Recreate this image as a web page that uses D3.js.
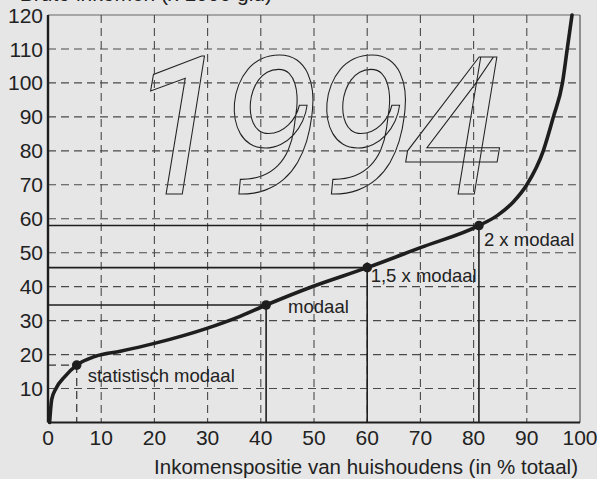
<!DOCTYPE html>
<html><head><meta charset="utf-8">
<script src="https://cdn.jsdelivr.net/npm/d3@7"></script>
<style>
html,body{margin:0;padding:0;background:#e6e6e6;}
svg{display:block;font-family:"Liberation Sans",Arial,Helvetica,sans-serif;}
</style></head>
<body>
<svg id="c" width="597" height="479"></svg>
<script>
const xTicks = [0,10,20,30,40,50,60,70,80,90,100];
const yTicks = [10,20,30,40,50,60,70,80,90,100,110,120];
const curveX = [0.3,0.7,1.5,3.2,5.4,8.9,13.6,20,30,35.5,41,50,60,70,81,84.5,87.5,90,93.1,95,96.7,97.6,98.5];
const curveY = [0,6.8,10,13.6,16.9,19.5,21,23.3,27.8,30.9,34.6,40.2,45.6,51.5,58,61,65,70,80,90,100,110,120];
const markerNames = ["statistisch modaal","modaal","1,5 x modaal","2 x modaal"];
const markerX = [5.4,41,60,81];
const markerY = [16.9,34.6,45.6,58];
const xTitle = "Inkomenspositie van huishoudens (in % totaal)";
const yTitle = "Bruto inkomen (x 1000 gld)";
const yearText = "1994";

const svg = d3.select("#c");
const x = d3.scaleLinear().domain([0,100]).range([48,580]);
const y = d3.scaleLinear().domain([0,120]).range([422.5,15]);
const ink = "#1e1e1e";

// big outlined year
svg.append("text")
  .attr("transform", `translate(${x(49.8)},194) scale(0.93,0.98)`)
  .attr("text-anchor","middle")
  .attr("font-family","Roboto,'Liberation Sans',sans-serif")
  .attr("font-size",197).attr("font-style","italic")
  .attr("letter-spacing",-8)
  .attr("fill","none").attr("stroke",ink).attr("stroke-width",1.1)
  .attr("vector-effect","non-scaling-stroke")
  .text(yearText);

// frame top/right
svg.append("line").attr("x1",x(0)).attr("x2",x(100)).attr("y1",y(120)).attr("y2",y(120))
  .attr("stroke","#666").attr("stroke-width",1.2);
svg.append("line").attr("x1",x(100)).attr("x2",x(100)).attr("y1",y(120)).attr("y2",y(0))
  .attr("stroke","#555").attr("stroke-width",1.2);

// dashed grid
const dash = "8,5";
svg.append("g").selectAll("line").data(yTicks.filter(d=>d<120)).join("line")
  .attr("x1",x(0)).attr("x2",x(100)).attr("y1",d=>y(d)).attr("y2",d=>y(d))
  .attr("stroke","#4a4a4a").attr("stroke-width",1.1).attr("stroke-dasharray",dash);
svg.append("g").selectAll("line").data(xTicks.filter(d=>d>0&&d<100)).join("line")
  .attr("x1",d=>x(d)).attr("x2",d=>x(d)).attr("y1",y(120)).attr("y2",y(0))
  .attr("stroke","#4a4a4a").attr("stroke-width",1.1).attr("stroke-dasharray",dash);

// reference lines
markerX.forEach((mx,i)=>{
  const my = markerY[i];
  const style = i===0 ? {w:1.2,d:dash,c:"#333"} : {w:1.6,d:null,c:ink};
  svg.append("line").attr("x1",x(0)).attr("x2",x(mx)).attr("y1",y(my)).attr("y2",y(my))
    .attr("stroke",style.c).attr("stroke-width",style.w).attr("stroke-dasharray",style.d);
  svg.append("line").attr("x1",x(mx)).attr("x2",x(mx)).attr("y1",y(my)).attr("y2",y(0))
    .attr("stroke",style.c).attr("stroke-width",style.w).attr("stroke-dasharray",style.d);
});

// axes
svg.append("line").attr("x1",x(0)).attr("x2",x(100)).attr("y1",y(0)).attr("y2",y(0))
  .attr("stroke",ink).attr("stroke-width",1.8);
svg.append("line").attr("x1",x(0)).attr("x2",x(0)).attr("y1",y(120)).attr("y2",y(0))
  .attr("stroke",ink).attr("stroke-width",2.4);

// curve
const pts = curveX.map((d,i)=>[d,curveY[i]]);
svg.append("path").datum(pts)
  .attr("d", d3.line().x(d=>x(d[0])).y(d=>y(d[1])).curve(d3.curveMonotoneX))
  .attr("fill","none").attr("stroke",ink).attr("stroke-width",3.6).attr("stroke-linecap","round");

// markers
svg.append("g").selectAll("circle").data(markerX).join("circle")
  .attr("cx",d=>x(d)).attr("cy",(d,i)=>y(markerY[i])).attr("r",4.8).attr("fill",ink);

// marker labels
const lblOff = [[11,17],[22,8],[3.5,14],[5,20]];
svg.append("g").selectAll("text").data(markerNames).join("text")
  .attr("x",(d,i)=>x(markerX[i])+lblOff[i][0])
  .attr("y",(d,i)=>y(markerY[i])+lblOff[i][1])
  .attr("font-size",18.5).attr("fill","#222").text(d=>d);

// tick labels
svg.append("g").selectAll("text").data(yTicks).join("text")
  .attr("x",43).attr("y",d=>y(d)).attr("dy","0.36em").attr("text-anchor","end")
  .attr("font-size",21).attr("fill","#222").text(d=>d);
svg.append("g").selectAll("text").data(xTicks).join("text")
  .attr("x",d=>x(d)).attr("y",445).attr("text-anchor","middle")
  .attr("font-size",21).attr("fill","#222").text(d=>d);

// titles
svg.append("text").attr("x",578).attr("y",474).attr("text-anchor","end")
  .attr("font-size",20.5).attr("fill","#222").text(xTitle);
svg.append("text").attr("x",272).attr("y",1).attr("text-anchor","end")
  .attr("font-size",21).attr("fill","#222").text(yTitle);
</script>
</body></html>
